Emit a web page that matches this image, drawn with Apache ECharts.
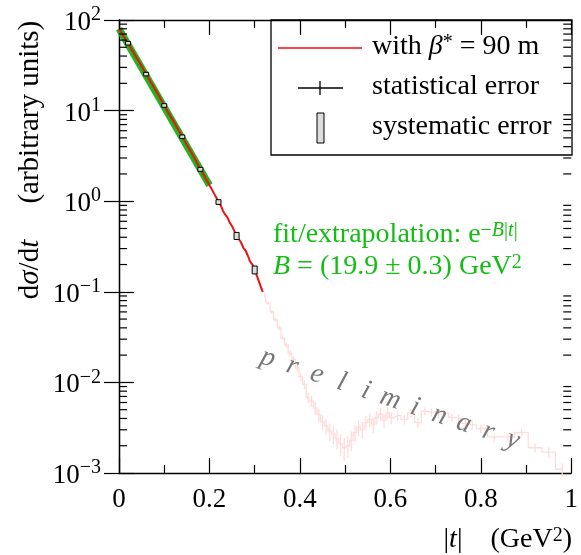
<!DOCTYPE html>
<html>
<head>
<meta charset="utf-8">
<script src="https://cdn.jsdelivr.net/npm/echarts@6/dist/echarts.min.js"></script>
</head>
<body style="margin:0">
<div id="chart" style="width:581px;height:555px"></div>
<script>
// measured |t| (GeV^2) and dsigma/dt, beta* = 90 m, low |t| (solid red)
var tSolid = [0.000, 0.010, 0.020, 0.030, 0.040, 0.050, 0.060, 0.070, 0.080, 0.090,
  0.100, 0.110, 0.120, 0.130, 0.140, 0.150, 0.160, 0.170, 0.180, 0.190, 0.200,
  0.205, 0.210, 0.215, 0.220, 0.225, 0.230, 0.235, 0.240, 0.245, 0.250, 0.255,
  0.260, 0.265, 0.270, 0.275, 0.280, 0.285, 0.290, 0.295, 0.300, 0.305, 0.310, 0.315, 0.318];
var dsdtSolid = [80, 66, 55.5, 45.5, 37.5, 30.8, 25.3, 20.8, 17.1, 14.0,
  11.4, 9.3, 7.7, 6.3, 5.15, 4.2, 3.45, 2.8, 2.25, 1.85, 1.5,
  1.36, 1.22, 1.10, 0.98, 0.90, 0.78, 0.71, 0.66, 0.58, 0.53, 0.47,
  0.415, 0.38, 0.35, 0.305, 0.285, 0.25, 0.215, 0.20, 0.175, 0.15, 0.128, 0.108, 0.100];

// higher |t| (faded histogram) with relative statistical errors
var tFaded = [0.322, 0.330, 0.338, 0.346, 0.354, 0.362, 0.370, 0.378, 0.386, 0.394,
  0.402, 0.410, 0.418, 0.426, 0.434, 0.442, 0.450, 0.458, 0.466, 0.474,
  0.482, 0.490, 0.498, 0.506, 0.514, 0.522, 0.530, 0.538, 0.546, 0.554,
  0.562, 0.570, 0.578, 0.586, 0.594, 0.602, 0.616, 0.631, 0.646, 0.661,
  0.676, 0.691, 0.706, 0.721, 0.736, 0.751, 0.766, 0.781, 0.800, 0.830,
  0.860, 0.890, 0.920, 0.950, 0.980];
var dsdtFaded = [0.092, 0.075, 0.060, 0.049, 0.040, 0.031, 0.026, 0.021, 0.018, 0.0145,
  0.0115, 0.0095, 0.0068, 0.0062, 0.0052, 0.0044, 0.0037, 0.0033, 0.0029, 0.0027,
  0.0024, 0.0021, 0.0019, 0.0020, 0.0023, 0.0028, 0.0032, 0.0030, 0.0036, 0.0039,
  0.0034, 0.0041, 0.0045, 0.0038, 0.0046, 0.0041, 0.0043, 0.0039, 0.0046, 0.0036,
  0.0048, 0.0047, 0.0045, 0.0046, 0.0041, 0.0040, 0.0035, 0.0034, 0.0031, 0.0025,
  0.0025, 0.0028, 0.0019, 0.0017, 0.0011];
var errFaded = [0.04, 0.04, 0.05, 0.05, 0.06, 0.06, 0.07, 0.07, 0.08, 0.09,
  0.10, 0.11, 0.13, 0.14, 0.16, 0.17, 0.19, 0.20, 0.22, 0.23,
  0.25, 0.27, 0.28, 0.27, 0.25, 0.22, 0.20, 0.21, 0.18, 0.17,
  0.19, 0.17, 0.16, 0.18, 0.15, 0.16, 0.12, 0.13, 0.11, 0.13,
  0.10, 0.10, 0.10, 0.10, 0.11, 0.11, 0.12, 0.12, 0.10, 0.11,
  0.11, 0.10, 0.12, 0.13, 0.16];

// systematic error boxes
var tSys = [0.02, 0.06, 0.10, 0.14, 0.18, 0.22, 0.26, 0.30];
var dsdtSys = [55.5, 25.3, 11.4, 5.15, 2.25, 0.98, 0.415, 0.175];
var errSys = [0.045, 0.045, 0.045, 0.045, 0.05, 0.06, 0.09, 0.10];

// exponential fit, end points (straight on log scale)
var tFit = [0.0, 0.2];
var dsdtFit = [80, 1.5];

var FONT = 'Liberation Serif';
var GREEN = '#14bd14';

function zip(a, b) { return a.map(function (x, i) { return [x, b[i]]; }); }

var minorVals = [];
for (var k = -3; k <= 1; k++) {
  for (var m = 2; m <= 9; m++) minorVals.push([0, m * Math.pow(10, k)]);
}

var chart = echarts.init(document.getElementById('chart'));

function yLabel(v) {
  var e = Math.round(Math.log10(v));
  return '{b|10}{s|' + (e < 0 ? '\u2212' + (-e) : e) + '}';
}

var tickStyle = { color: '#000', width: 1.2 };
var xAxisBase = {
  type: 'value', min: 0, max: 1, interval: 0.2,
  axisLine: { lineStyle: { color: '#000', width: 1.3 } },
  axisTick: { inside: true, length: 15, lineStyle: tickStyle },
  minorTick: { show: true, splitNumber: 2, length: 8, lineStyle: tickStyle },
  splitLine: { show: false }
};
var yAxisBase = {
  type: 'log', logBase: 10, min: 0.001, max: 100,
  axisLine: { show: true, lineStyle: { color: '#000', width: 1.3 } },
  axisTick: { show: true, inside: true, length: 15, lineStyle: tickStyle },
  splitLine: { show: false }
};

chart.setOption({
  animation: false,
  grid: { left: 119, right: 9, top: 20, bottom: 82 },
  xAxis: [
    Object.assign({}, xAxisBase, {
      position: 'bottom',
      axisLabel: {
        margin: 13, color: '#000', fontFamily: FONT, fontSize: 27,
        formatter: function (v) { return v === 0 || v === 1 ? String(v) : v.toFixed(1); }
      }
    }),
    Object.assign({}, xAxisBase, { position: 'top', axisLabel: { show: false } })
  ],
  yAxis: [
    Object.assign({}, yAxisBase, {
      position: 'left',
      axisLabel: {
        margin: 18, formatter: yLabel,
        rich: {
          b: { fontFamily: FONT, fontSize: 27, color: '#000', lineHeight: 30, padding: [6, 0, 0, 0] },
          s: { fontFamily: FONT, fontSize: 20, color: '#000', lineHeight: 20, verticalAlign: 'top' }
        }
      }
    }),
    Object.assign({}, yAxisBase, { position: 'right', axisLabel: { show: false } })
  ],
  series: [
    {
      type: 'line', data: zip(tFaded, dsdtFaded), step: 'middle', showSymbol: false,
      lineStyle: { color: '#ffdcdc', width: 1.3 }, z: 1
    },
    {
      type: 'custom', z: 1,
      data: tFaded.map(function (t, i) { return [t, dsdtFaded[i], errFaded[i]]; }),
      renderItem: function (params, api) {
        var t = api.value(0), v = api.value(1), e = api.value(2);
        var hi = api.coord([t, v * (1 + e)]);
        var lo = api.coord([t, v * (1 - e)]);
        return {
          type: 'line',
          shape: { x1: hi[0], y1: hi[1], x2: lo[0], y2: lo[1] },
          style: { stroke: '#ffdcdc', lineWidth: 1.3 }
        };
      }
    },
    {
      type: 'line', data: zip(tFit, dsdtFit), showSymbol: false,
      lineStyle: { color: '#22b322', width: 7 }, z: 2
    },
    {
      type: 'line', data: zip(tSolid, dsdtSolid), showSymbol: false,
      lineStyle: { color: '#ee1111', width: 2 }, z: 3
    },
    {
      type: 'custom', z: 4,
      data: tSys.map(function (t, i) { return [t, dsdtSys[i], errSys[i]]; }),
      renderItem: function (params, api) {
        var t = api.value(0), v = api.value(1), e = api.value(2);
        var hi = api.coord([t, v * (1 + e)]);
        var lo = api.coord([t, v * (1 - e)]);
        return {
          type: 'rect',
          shape: { x: hi[0] - 2.5, y: hi[1], width: 5, height: Math.max(lo[1] - hi[1], 3) },
          style: { fill: '#dddddd', stroke: '#000', lineWidth: 1 }
        };
      }
    },
    {
      type: 'custom', z: 5, silent: true, clip: false,
      data: minorVals,
      renderItem: function (params, api) {
        var v = api.value(1);
        var l = api.coord([0, v]), r = api.coord([1, v]);
        return {
          type: 'group',
          children: [
            { type: 'line', shape: { x1: l[0], y1: l[1], x2: l[0] + 8, y2: l[1] }, style: { stroke: '#000', lineWidth: 1.2 } },
            { type: 'line', shape: { x1: r[0] - 8, y1: r[1], x2: r[0], y2: r[1] }, style: { stroke: '#000', lineWidth: 1.2 } }
          ]
        };
      }
    }
  ],
  graphic: buildGraphics()
});

function txt(x, y, text, rich, extra) {
  var g = {
    type: 'text', x: x, y: y, z: 100,
    style: Object.assign({
      text: text, rich: rich, fill: '#000',
      font: '28px "' + FONT + '"',
      align: 'left', verticalAlign: 'middle',
      textAlign: 'left', textVerticalAlign: 'middle'
    }, extra || {})
  };
  return g;
}

function rs(size, color, italic, extra) {
  return Object.assign({
    fontFamily: FONT, fontSize: size, fill: color, color: color,
    fontStyle: italic ? 'italic' : 'normal'
  }, extra || {});
}

function buildGraphics() {
  var g = [];
  // legend frame
  g.push({ type: 'rect', z: 100, shape: { x: 271, y: 20, width: 301, height: 135 },
    style: { fill: 'none', stroke: '#000', lineWidth: 1.3 } });
  g.push({ type: 'line', z: 100, shape: { x1: 278, y1: 48, x2: 362, y2: 48 },
    style: { stroke: '#ff4444', lineWidth: 2 } });
  g.push(txt(372, 47, '{n|with }{i|\u03b2}{s|*}{n| = 90 m}', {
    n: rs(28, '#000', false), i: rs(28, '#000', true),
    s: rs(20, '#000', false, { verticalAlign: 'top', lineHeight: 20 })
  }));
  g.push({ type: 'line', z: 100, shape: { x1: 298, y1: 88, x2: 343, y2: 88 },
    style: { stroke: '#000', lineWidth: 1.3 } });
  g.push({ type: 'line', z: 100, shape: { x1: 320, y1: 81, x2: 320, y2: 95 },
    style: { stroke: '#000', lineWidth: 1.3 } });
  g.push(txt(372, 87, 'statistical error'));
  g.push({ type: 'rect', z: 100, shape: { x: 317, y: 113, width: 7, height: 30 },
    style: { fill: '#dddddd', stroke: '#000', lineWidth: 1 } });
  g.push(txt(372, 127, 'systematic error'));

  // fit annotation
  g.push(txt(273, 235, '{n|fit/extrapolation: e}{s|\u2212}{si|B}{s||}{si|t}{s||}', {
    n: rs(28, GREEN, false),
    s: rs(20, GREEN, false, { verticalAlign: 'top', lineHeight: 20 }),
    si: rs(20, GREEN, true, { verticalAlign: 'top', lineHeight: 20 })
  }, { fill: GREEN }));
  g.push(txt(273, 267, '{i|B}{n| = (19.9 \u00b1 0.3) GeV}{s|2}', {
    n: rs(28, GREEN, false), i: rs(28, GREEN, true),
    s: rs(20, GREEN, false, { verticalAlign: 'top', lineHeight: 20 })
  }, { fill: GREEN }));

  // axis titles
  g.push(Object.assign(txt(30, 160, '{n|d}{i|\u03c3}{n|/d}{i|t}{n|     (arbitrary units)}', {
    n: rs(29, '#000', false), i: rs(29, '#000', true)
  }, { align: 'center', textAlign: 'center' }), { rotation: Math.PI / 2 }));
  g.push(txt(572, 540, '{n||}{i|t}{n||    (GeV}{s|2}{n|)}', {
    n: rs(28, '#000', false), i: rs(28, '#000', true),
    s: rs(20, '#000', false, { verticalAlign: 'top', lineHeight: 20 })
  }, { align: 'right', textAlign: 'right' }));

  // "preliminary" watermark
  var word = 'preliminary';
  for (var i = 0; i < word.length; i++) {
    g.push({
      type: 'text', z: 100, x: 268 + i * 24.5, y: 358 + i * 8.2, rotation: -0.323,
      style: {
        text: word[i], fill: '#777', font: 'italic 28px "' + FONT + '"',
        align: 'center', verticalAlign: 'middle', textAlign: 'center', textVerticalAlign: 'middle'
      }
    });
  }
  return g;
}
</script>
</body>
</html>
